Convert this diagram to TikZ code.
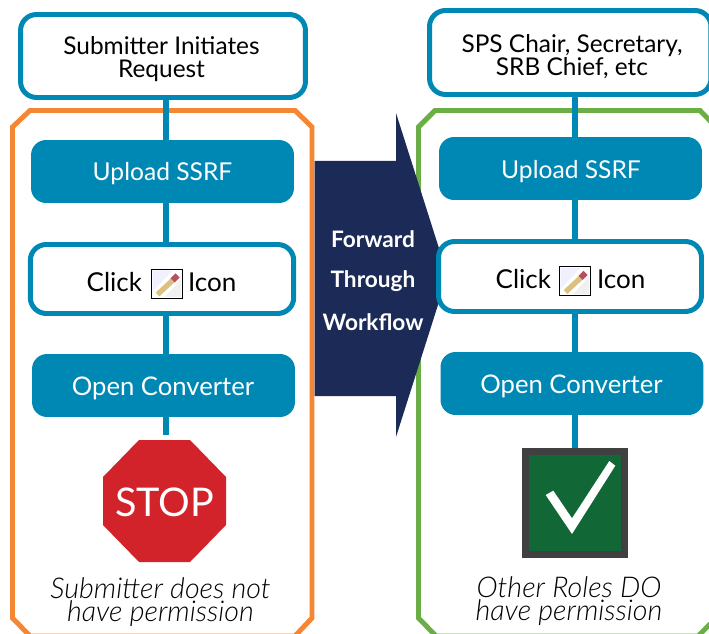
\documentclass[tikz,border=0pt]{standalone}
\usepackage{fontspec}
\setmainfont{Lato}
\newfontfamily\lightfont{Lato Light}
\definecolor{flowblue}{HTML}{0088B5}
\definecolor{frameorange}{HTML}{F58634}
\definecolor{framegreen}{HTML}{6AAE45}
\definecolor{arrownavy}{HTML}{1B2A57}
\definecolor{stopred}{HTML}{D2232A}
\definecolor{checkgreen}{HTML}{126737}
\definecolor{checkgrey}{HTML}{404040}
\definecolor{penciltan}{HTML}{DCC07E}
\definecolor{pencilred}{HTML}{B5505C}
\tikzset{
  solidbox/.style={fill=flowblue,rounded corners=0.3cm,minimum width=5.26cm,minimum height=1.26cm,inner sep=0pt},
  linebox/.style={draw=flowblue,fill=white,line width=2.83pt,rounded corners=0.32cm,inner sep=0pt},
  boxtext/.style={align=center,font=\fontsize{13.9}{13}\selectfont},
  solidtext/.style={text=white,font=\fontsize{14}{14}\selectfont},
  opentext/.style={text=white,font=\fontsize{14.6}{14}\selectfont},
  clicktext/.style={font=\fontsize{14.8}{14}\selectfont},
  frameline/.style={line width=2.83pt},
  flowline/.style={draw=flowblue,line width=3.4pt},
  notetext/.style={align=center,font=\fontsize{16.3}{13.2}\selectfont\lightfont\itshape},
  forwardtext/.style={text=white,font=\fontsize{12.9}{12}\selectfont\bfseries},
  pencilicon/.pic={
    \draw[black,line width=0.4pt,fill=white] (-15.5,-14.5) rectangle (15.5,14.5);
    \fill[blue!6] (-14,-13) -- (6,-13) -- (-14,8) -- cycle;
    \fill[black!6] (14.5,13.5) -- (-2,13.5) -- (14.5,-4) -- cycle;
    \draw[line width=3pt,penciltan] (-9,11) -- (6,-3);
    \draw[line width=3.4pt,pencilred] (6,-3) -- (11,-8);
  }
}
\begin{document}
\begin{tikzpicture}[x=0.02cm,y=-0.02cm]
\useasboundingbox (0,0) rectangle (709,634);
\clip (0,0) rectangle (709,634);
% frames
\draw[frameline,frameorange] (30,110.5) -- (295,110.5) -- (312,127) -- (312,618) -- (295,636) -- (30,636) -- (12.5,618) -- (12.5,127) -- cycle;
\draw[frameline,framegreen] (435,110.5) -- (700,110.5) -- (716,127) -- (716,618) -- (698,636) -- (436,636) -- (418.5,618) -- (418.5,127) -- cycle;
% arrow between the frames
\fill[arrownavy] (314.5,161) -- (396,161) -- (396,113) -- (447.5,275) -- (396,437) -- (396,396) -- (314.5,396) -- cycle;
\node[forwardtext] (forward) at (373,239) {Forward};
\node[forwardtext] (through) at (373,281) {Through};
\node[forwardtext] (workflow) at (373,322) {Workflow};
% left column
\coordinate (leftline) at (166,0);
\coordinate (leftend) at (166,435);
\node[linebox,minimum width=5.7cm,minimum height=1.66cm] (submitter) at (163,56) {};
\node[solidbox] (uploadl) at (162.5,171.5) {};
\node[linebox,minimum width=5.27cm,minimum height=1.38cm] (clickl) at (162,279) {};
\node[solidbox] (openl) at (163.5,385.5) {};
\draw[flowline] (submitter.south -| leftline) -- (uploadl.north -| leftline);
\draw[flowline] (uploadl.south -| leftline) -- (clickl.north -| leftline);
\draw[flowline] (clickl.south -| leftline) -- (openl.north -| leftline);
\draw[flowline] (openl.south -| leftline) -- (leftend);
\node[boxtext] (submittertext) at (161.5,59) {Submitter Initiates\\Request};
\node[solidtext] (uploadltext) at (162.5,174) {Upload SSRF};
\node[clicktext] (clickltext) at (161.5,282) {Click\hspace{0.92cm}Icon};
\pic at (166.5,283.5) {pencilicon};
\node[opentext] (openltext) at (163,388) {Open Converter};
\fill[stopred] (139,440) -- (190,440) -- (226,477) -- (226,525) -- (190,562) -- (139,562) -- (103,525) -- (103,477) -- cycle;
\node[text=white,font=\fontsize{22.5}{25}\selectfont] (stoptext) at (164.5,502) {STOP};
\node[notetext] (denied) at (160.5,602) {Submitter does not\\have permission};
% right column
\coordinate (rightline) at (575,0);
\node[linebox,minimum width=5.63cm,minimum height=1.68cm] (roles) at (570.25,52.5) {};
\node[solidbox] (uploadr) at (570.5,168.5) {};
\node[linebox,minimum width=5.26cm,minimum height=1.4cm] (clickr) at (570,276.5) {};
\node[solidbox] (openr) at (572,383.5) {};
\node[draw=checkgrey,fill=checkgreen,line width=3.97pt,minimum width=1.98cm,minimum height=2.06cm,inner sep=0pt] (checkbox) at (575,503) {};
\draw[flowline] (roles.south -| rightline) -- (uploadr.north -| rightline);
\draw[flowline] (uploadr.south -| rightline) -- (clickr.north -| rightline);
\draw[flowline] (clickr.south -| rightline) -- (openr.north -| rightline);
\draw[flowline] (openr.south -| rightline) -- (checkbox.north -| rightline);
\node[boxtext] (rolestext) at (572,56.5) {SPS Chair, Secretary,\\SRB Chief, etc};
\node[solidtext] (uploadrtext) at (571,171.5) {Upload SSRF};
\node[clicktext] (clickrtext) at (570.5,279.5) {Click\hspace{0.92cm}Icon};
\pic at (574.5,281) {pencilicon};
\node[opentext] (openrtext) at (571.5,386.5) {Open Converter};
\fill[white] (545.7,495) -- (553.3,490.7) -- (572,518.3) -- (609.3,461) -- (615.3,465.7) -- (572,534) -- cycle;
\node[notetext] (allowed) at (569,601) {Other Roles DO\\have permission};
\end{tikzpicture}
\end{document}
